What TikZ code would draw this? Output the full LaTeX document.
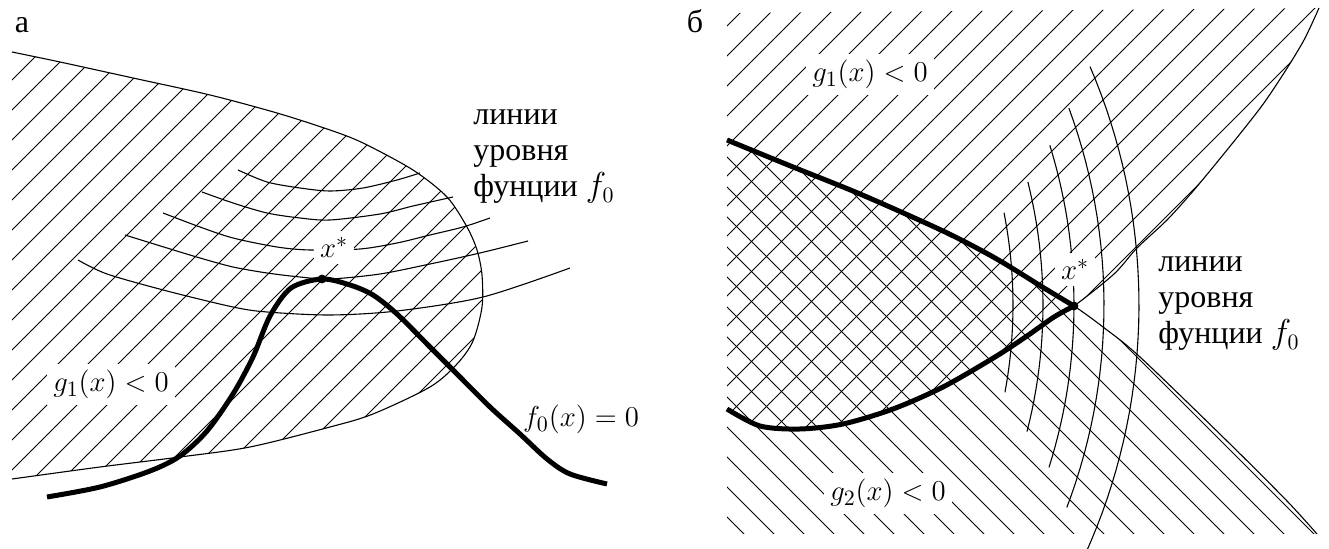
\documentclass[tikz,border=0pt]{standalone}
\usepackage{fontspec}
\setmainfont{Liberation Serif}
\begin{document}
\begin{tikzpicture}[x=0.5pt,y=-0.5pt,
  hatch/.style={line width=0.45pt},
  level/.style={line width=0.55pt},
  bound/.style={line width=0.55pt},
  thickc/.style={line width=2.5pt},
  txt/.style={font=\fontsize{16}{19}\selectfont, inner sep=0pt},
  mlbl/.style={font=\fontsize{15}{18}\selectfont, fill=white, inner sep=3pt},
  dotc/.style={fill=black},
]
\useasboundingbox (0,0) rectangle (1329,549);

% ================= panel a =================
\begin{scope}
\clip plot[smooth] coordinates {(12,52) (60,62) (133,78) (210,95) (277,113) (330,130) (363,143) (413,170) (447,197) (467,227) (477,250) (482,275) (482,307) (473,341) (457,364) (430,387) (373,414) (330,427) (250,447) (180,457) (100,467) (12,479)} -- cycle;
\foreach \c in {62,92,...,842} \draw[hatch] (\c,0) -- ({\c-600},600);
\end{scope}

% level lines
\draw[level] plot[smooth] coordinates {(238,170) (267,182) (300,188) (330,191) (363,188) (397,180) (420,173)};
\draw[level] plot[smooth] coordinates {(202,192) (233,203) (267,213) (300,218) (330,220) (380,214) (413,206) (453,197)};
\draw[level] plot[smooth] coordinates {(163,213) (200,227) (233,238) (277,247) (310,250) (360,249) (397,243) (430,235) (463,227) (490,218)};
\draw[level] plot[smooth] coordinates {(125,235) (167,248) (200,258) (233,267) (267,273) (300,277) (330,279) (380,274) (430,264) (480,253) (528,241)};
\draw[level] plot[smooth] coordinates {(78,260) (107,274) (167,291) (233,307) (267,312) (330,315) (397,311) (483,297) (570,268)};

% region boundary
\draw[bound] plot[smooth] coordinates {(12,52) (60,62) (133,78) (210,95) (277,113) (330,130) (363,143) (413,170) (447,197) (467,227) (477,250) (482,275) (482,307) (473,341) (457,364) (430,387) (373,414) (330,427) (250,447) (180,457) (100,467) (12,479)};

% f0 curve
\draw[thickc] plot[smooth] coordinates {(47,497) (100,487) (150,471) (180,456) (207,431) (233,394) (253,357) (270,316) (291,288) (322,279) (350,285) (373,295) (397,314) (430,347) (457,374) (490,407) (520,434) (547,459) (570,474) (607,484)};
\fill[dotc] (322,279) circle[radius=2.2pt];
\coordinate (xa) at (322,279);

% labels panel a
\node[txt, anchor=base] (la) at (22,33) {а};
\node[mlbl, anchor=base] (xsa) at (334,258) {$x^*$};
\node[mlbl, anchor=base] (g1a) at (111,392) {$g_1(x) < 0$};
\node[txt, font=\fontsize{15}{18}\selectfont, anchor=base] (f0a) at (581,427) {$f_0(x) = 0$};
\node[txt, anchor=base west] (la1) at (473,125) {линии};
\node[txt, anchor=base west] (la2) at (473,161) {уровня};
\node[txt, anchor=base west] (la3) at (473,197) {фунции $f_0$};

% ================= panel b =================
% g1 < 0 region ("/")
\begin{scope}
\clip (727,13) -- plot[smooth] coordinates {(727,409) (760,426) (800,429) (843,424) (893,409) (943,387) (995,357) (1027,336) (1054,317) (1074,306) (1114,274) (1137,248) (1167,220) (1194,190) (1227,150) (1261,107) (1284,73) (1304,40) (1319,8)} -- cycle;
\foreach \c in {723,753,...,1413} \draw[hatch] (\c,0) -- ({\c-560},560);
\end{scope}
% g2 < 0 region ("\")
\begin{scope}
\clip plot[smooth] coordinates {(727,140) (793,167) (860,194) (943,231) (995,258) (1044,288) (1074,306) (1103,327) (1140,357) (1227,441) (1287,501) (1317,534)} -- (727,534) -- cycle;
\foreach \d in {180,210,...,810} \draw[hatch] (\d,0) -- ({\d+560},560);
\end{scope}

% level lines (arcs)
\draw[level] plot[domain=-11.1:10.5, samples=25] ({534+479*cos(\x)}, {305+479*sin(\x)});
\draw[level] plot[domain=-14:14.4, samples=25] ({534+509*cos(\x)}, {305+509*sin(\x)});
\draw[level] plot[domain=-17.2:17.5, samples=30] ({534+540*cos(\x)}, {305+540*sin(\x)});
\draw[level] plot[domain=-20.2:20.8, samples=30] ({534+570*cos(\x)}, {305+570*sin(\x)});
\draw[level] plot[domain=-23.2:24.2, samples=35] ({534+605*cos(\x)}, {305+605*sin(\x)});

% constraint curves
\draw[bound] plot[smooth] coordinates {(727,409) (760,426) (800,429) (843,424) (893,409) (943,387) (995,357) (1027,336) (1054,317) (1074,306) (1114,274) (1137,248) (1167,220) (1194,190) (1227,150) (1261,107) (1284,73) (1304,40) (1319,8)};
\draw[bound] plot[smooth] coordinates {(727,140) (793,167) (860,194) (943,231) (995,258) (1044,288) (1074,306) (1103,327) (1140,357) (1227,441) (1287,501) (1317,534)};
\draw[thickc] plot[smooth] coordinates {(727,409) (760,426) (800,429) (843,424) (893,409) (943,387) (995,357) (1027,336) (1054,317) (1074,306)};
\draw[thickc] plot[smooth] coordinates {(727,140) (793,167) (860,194) (943,231) (995,258) (1044,288) (1074,306)};
\fill[dotc] (1074,306) circle[radius=2.2pt];
\coordinate (xb) at (1074,306);

% labels panel b
\node[txt, anchor=base] (lb) at (695,33) {б};
\node[mlbl, anchor=base] (xsb) at (1075,280) {$x^*$};
\node[mlbl, anchor=base] (g1b) at (870,82) {$g_1(x) < 0$};
\node[mlbl, anchor=base] (g2b) at (888,501) {$g_2(x) < 0$};
\node[txt, anchor=base west] (lb1) at (1158,272) {линии};
\node[txt, anchor=base west] (lb2) at (1158,308) {уровня};
\node[txt, anchor=base west] (lb3) at (1158,344) {фунции $f_0$};
\end{tikzpicture}
\end{document}
